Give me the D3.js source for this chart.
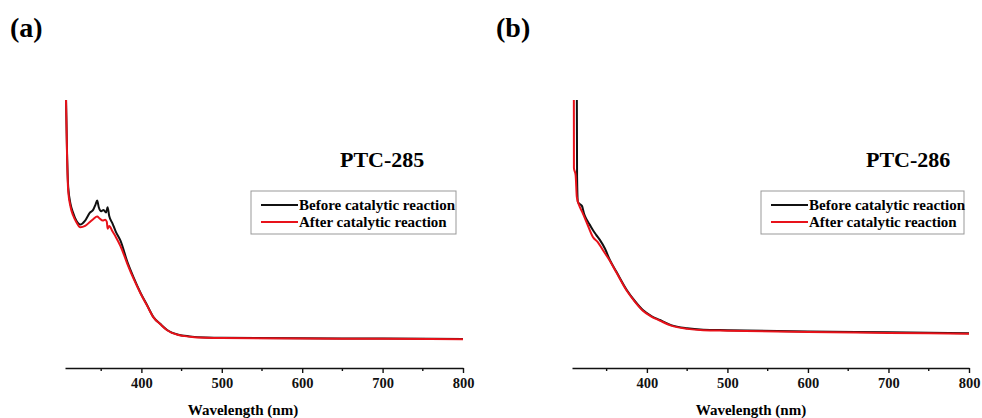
<!DOCTYPE html>
<html>
<head>
<meta charset="utf-8">
<script src="https://cdn.jsdelivr.net/npm/d3@7"></script>
<style>
  body { margin: 0; background: #fff; }
  svg { display: block; }
  text { font-family: "Liberation Serif", "Times New Roman", serif; font-weight: bold; }
</style>
</head>
<body>
<svg id="chart" width="982" height="418"></svg>
<script>
// UV-vis spectra: [wavelength nm, absorbance a.u.]
const before285 = [[303,1.4],[306,1.05],[307.5,0.81],[309,0.675],[312,0.61],[315,0.58],[319,0.55],[324,0.535],[330,0.55],[336,0.58],[340,0.59],[343,0.61],[345,0.625],[347,0.6],[350,0.585],[353,0.59],[356,0.58],[358,0.6],[360,0.567],[364,0.54],[368,0.51],[374,0.475],[383,0.392],[390,0.34],[399,0.28],[407,0.235],[415,0.19],[424,0.163],[432,0.142],[446,0.124],[460,0.118],[480,0.114],[500,0.113],[600,0.111],[700,0.11],[800,0.108]];
const after285 = [[303,1.4],[306,1.05],[307.5,0.8],[309,0.66],[312,0.6],[315,0.57],[319,0.545],[324,0.525],[330,0.53],[336,0.545],[340,0.555],[345,0.565],[348,0.558],[352,0.55],[355,0.553],[357,0.545],[358,0.52],[360,0.53],[364,0.51],[368,0.49],[374,0.455],[383,0.385],[390,0.335],[399,0.278],[407,0.233],[415,0.189],[424,0.162],[432,0.141],[446,0.123],[460,0.117],[480,0.113],[500,0.112],[600,0.11],[700,0.109],[800,0.107]];
const before286 = [[305,1.5],[313,1.02],[313.3,0.713],[314.3,0.62],[316.5,0.612],[319.3,0.605],[322,0.575],[325.5,0.552],[329,0.535],[332.9,0.515],[337,0.497],[341.6,0.478],[348,0.445],[354,0.403],[362,0.36],[375,0.291],[385,0.25],[395,0.216],[405,0.195],[416,0.179],[430,0.16],[450,0.148],[470,0.143],[500,0.141],[600,0.136],[700,0.133],[800,0.13]];
const after286 = [[305,1.5],[309.3,1.02],[309.4,0.746],[311.5,0.72],[313,0.638],[316.8,0.6],[320,0.58],[325.5,0.541],[332.9,0.489],[339,0.47],[345.3,0.44],[354,0.4],[362,0.357],[375,0.288],[385,0.248],[395,0.214],[405,0.193],[416,0.177],[430,0.158],[450,0.146],[470,0.141],[500,0.139],[600,0.134],[700,0.131],[800,0.128]];

const majorTicks = [400, 500, 600, 700, 800];
const minorTicks = [350, 450, 550, 650, 750];
const seriesNames = ["Before catalytic reaction", "After catalytic reaction"];
const seriesColors = ["#111", "#e8121a"];

const svg = d3.select("#chart");

function panel(cfg) {
    const g = svg.append("g");

    const x = d3.scaleLinear().domain(cfg.xDomain).range(cfg.xRange);
    const y = d3.scaleLinear().domain([0, 1]).range([368, 100]);

    // clip so the steep start gets cut at the top like in the figure
    g.append("clipPath").attr("id", cfg.id)
        .append("rect")
        .attr("x", cfg.xRange[0]).attr("y", 100)
        .attr("width", cfg.xRange[1] - cfg.xRange[0]).attr("height", 268);

    const line = d3.line().x(d => x(d[0])).y(d => y(d[1])).curve(d3.curveMonotoneX);

    g.selectAll("path.spec")
        .data(cfg.series)
        .join("path")
        .attr("class", "spec")
        .attr("clip-path", `url(#${cfg.id})`)
        .attr("d", d => line(d))
        .attr("fill", "none")
        .attr("stroke", (d, i) => seriesColors[i])
        .attr("stroke-width", 2)
        .attr("stroke-linejoin", "round");

    // x axis: major + minor ticks
    const ax = g.append("g").attr("transform", "translate(0,368)")
        .call(d3.axisBottom(x).tickValues(majorTicks).tickSize(5).tickSizeOuter(0).tickPadding(5));
    ax.selectAll("path, line").attr("stroke", "#111").attr("stroke-width", 1.4);
    ax.selectAll("text").attr("font-size", 14.5).attr("fill", "#111")
        .style("font-family", "Liberation Serif").style("font-weight", "bold");

    g.append("g").attr("transform", "translate(0,368)")
        .selectAll("line")
        .data(minorTicks)
        .join("line")
        .attr("x1", d => x(d)).attr("x2", d => x(d))
        .attr("y1", 0).attr("y2", 3)
        .attr("stroke", "#111").attr("stroke-width", 1.4);

    g.append("text")
        .attr("x", cfg.labelX).attr("y", 415)
        .attr("text-anchor", "middle")
        .attr("font-size", 15)
        .text("Wavelength (nm)");

    // panel letter and sample name
    g.append("text").attr("x", cfg.letterX).attr("y", 37).attr("font-size", 28).text(cfg.letter);
    g.append("text").attr("x", cfg.nameX).attr("y", 167).attr("font-size", 22).text(cfg.name);

    // legend
    const lg = g.append("g").attr("transform", `translate(${cfg.legX},191)`);
    lg.append("rect")
        .attr("width", cfg.legW).attr("height", 43)
        .attr("fill", "#fff").attr("stroke", "#999").attr("stroke-width", 1);
    lg.selectAll("line")
        .data(seriesNames)
        .join("line")
        .attr("x1", 10).attr("x2", 47)
        .attr("y1", (d, i) => 14 + i * 17).attr("y2", (d, i) => 14 + i * 17)
        .attr("stroke", (d, i) => seriesColors[i]).attr("stroke-width", 2);
    lg.selectAll("text")
        .data(seriesNames)
        .join("text")
        .attr("x", 48).attr("y", (d, i) => 19 + i * 17)
        .attr("font-size", 15)
        .text(d => d);
}

panel({id: "clipA", xDomain: [305, 800], xRange: [65, 463], series: [before285, after285],
       letter: "(a)", letterX: 10, name: "PTC-285", nameX: 340, legX: 251, legW: 205, labelX: 243});
panel({id: "clipB", xDomain: [307, 800], xRange: [572, 969], series: [before286, after286],
       letter: "(b)", letterX: 496, name: "PTC-286", nameX: 866, legX: 761, legW: 203, labelX: 751});
</script>
</body>
</html>
